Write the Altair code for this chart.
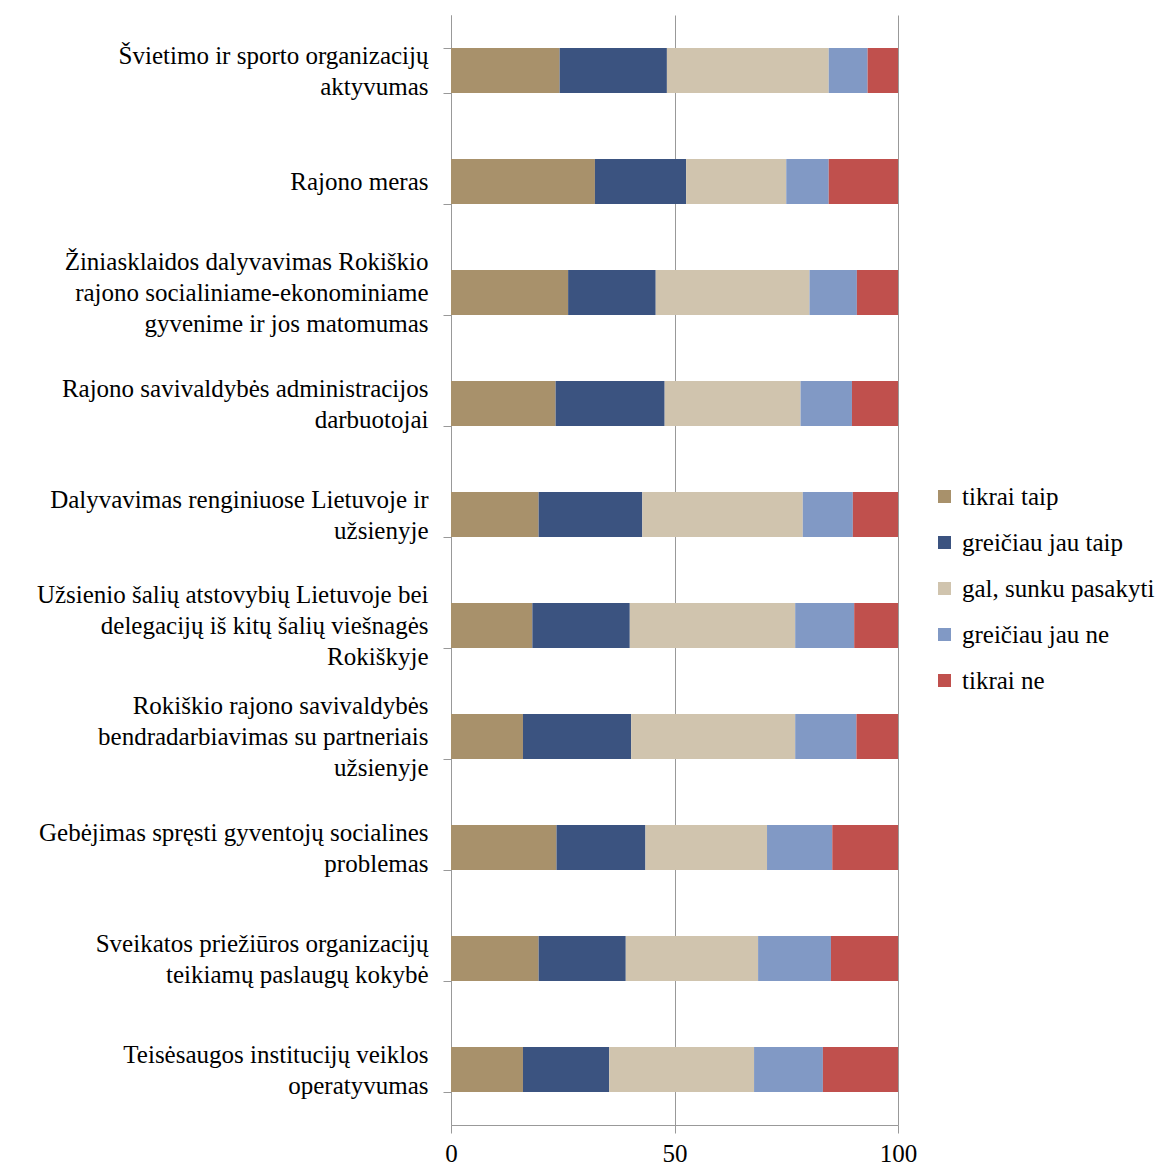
import altair as alt
import pandas as pd

categories = [
    "Švietimo ir sporto organizacijų|aktyvumas",
    "Rajono meras",
    "Žiniasklaidos dalyvavimas Rokiškio|rajono socialiniame-ekonominiame|gyvenime ir jos matomumas",
    "Rajono savivaldybės administracijos|darbuotojai",
    "Dalyvavimas renginiuose Lietuvoje ir|užsienyje",
    "Užsienio šalių atstovybių Lietuvoje bei|delegacijų iš kitų šalių viešnagės|Rokiškyje",
    "Rokiškio rajono savivaldybės|bendradarbiavimas su partneriais|užsienyje",
    "Gebėjimas spręsti gyventojų socialines|problemas",
    "Sveikatos priežiūros organizacijų|teikiamų paslaugų kokybė",
    "Teisėsaugos institucijų veiklos|operatyvumas",
]

series_names = ["tikrai taip", "greičiau jau taip", "gal, sunku pasakyti", "greičiau jau ne", "tikrai ne"]

tikrai_taip = [24.3, 32.2, 26.2, 23.4, 19.6, 18.2, 16.1, 23.6, 19.6, 16.1]
greiciau_taip = [24.0, 20.4, 19.6, 24.4, 23.2, 21.8, 24.2, 19.9, 19.5, 19.3]
gal_sunku = [36.2, 22.4, 34.4, 30.4, 35.9, 37.0, 36.7, 27.2, 29.6, 32.4]
greiciau_ne = [8.7, 9.5, 10.6, 11.5, 11.2, 13.2, 13.7, 14.6, 16.3, 15.4]
tikrai_ne = [6.8, 15.5, 9.2, 10.3, 10.1, 9.8, 9.3, 14.7, 15.0, 16.8]

colors = ["#A8916B", "#3B5380", "#D0C4AE", "#8199C5", "#C0504D"]

series_values = [tikrai_taip, greiciau_taip, gal_sunku, greiciau_ne, tikrai_ne]
rows = []
for si, (name, vals) in enumerate(zip(series_names, series_values)):
    for ci, (cat, v) in enumerate(zip(categories, vals)):
        rows.append({"category": cat, "series": name, "value": v, "order": si})
df = pd.DataFrame(rows)

FONT = "Liberation Serif"
FS = 25

label_offset = {
    "condition": [
        {"test": "length(split(datum.label, '|')) == 3", "value": -31},
        {"test": "length(split(datum.label, '|')) == 2", "value": -15.5},
    ],
    "value": 0,
}

chart = alt.Chart(df).mark_bar().encode(
    y=alt.Y(
        "category:N",
        sort=categories,
        scale=alt.Scale(paddingInner=0.595, paddingOuter=0.2975),
        axis=alt.Axis(
            title=None,
            labelExpr="split(datum.label, '|')",
            labelFont=FONT,
            labelFontSize=FS,
            labelLineHeight=31,
            labelColor="#000000",
            labelAlign="right",
            labelBaseline="middle",
            labelOffset=label_offset,
            labelPadding=15,
            labelLimit=600,
            labelOverlap=False,
            tickBand="extent",
            tickSize=8,
            tickColor="#999999",
            domainColor="#999999",
            grid=False,
        ),
    ),
    x=alt.X(
        "value:Q",
        stack="zero",
        scale=alt.Scale(domain=[0, 100], nice=False),
        axis=alt.Axis(
            title=None,
            values=[0, 50, 100],
            labelFont=FONT,
            labelFontSize=FS,
            labelColor="#000000",
            labelPadding=8,
            labelFlush=False,
            tickSize=8,
            tickColor="#999999",
            domainColor="#999999",
            grid=True,
            gridColor="#999999",
            gridWidth=1,
        ),
    ),
    color=alt.Color(
        "series:N",
        sort=series_names,
        scale=alt.Scale(domain=series_names, range=colors),
        legend=alt.Legend(
            title=None,
            orient="none",
            legendX=481,
            legendY=469,
            symbolType="square",
            symbolSize=170,
            symbolStrokeWidth=0,
            labelFont=FONT,
            labelFontSize=FS,
            labelColor="#000000",
            labelOffset=5,
            rowPadding=20,
            labelLimit=300,
        ),
    ),
    order=alt.Order("order:Q"),
).properties(
    width=447,
    height=1110,
    autosize="none",
    padding={"left": 443, "top": 7, "right": 258, "bottom": 40},
).configure_view(stroke=None)

chart.save("out.html", embed_options={"renderer": "svg", "actions": False})
